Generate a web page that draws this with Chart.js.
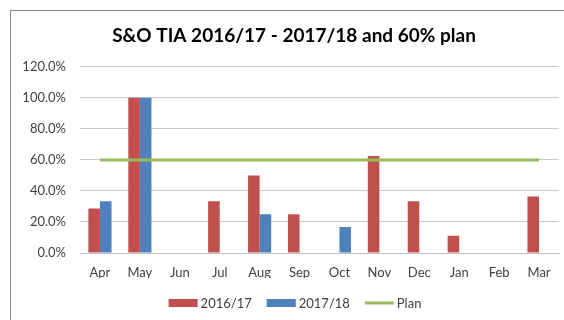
<!DOCTYPE html>
<html>
<head>
<meta charset="utf-8">
<script src="https://cdn.jsdelivr.net/npm/chart.js@4.4.0/dist/chart.umd.min.js"></script>
<style>
  html, body { margin: 0; padding: 0; background: #fff; }
  #frame {
    position: absolute; left: 10px; top: 10px;
    width: 560px; height: 320px;
    border-top: 1px solid #8c8c8c; border-left: 1px solid #8c8c8c;
  }
  #chart { position: absolute; left: 0; top: 0; }
</style>
</head>
<body>
<div id="frame">
  <canvas id="chart" width="553" height="309"></canvas>
</div>
<script>
const months = ['Apr', 'May', 'Jun', 'Jul', 'Aug', 'Sep', 'Oct', 'Nov', 'Dec', 'Jan', 'Feb', 'Mar'];
const tia1617 = [28.6, 100, null, 33.3, 50, 25, null, 62.5, 33.3, 11.1, null, 36.4];
const tia1718 = [33.3, 100, null, null, 25, null, 16.7, null, null, null, null, null];
const plan = [60, 60, 60, 60, 60, 60, 60, 60, 60, 60, 60, 60];

const labelFont = '13px Lato';
const labelColor = '#404040';

// compact legend: swatch sits right against its text, like the office-style key
const keyLegend = {
    id: 'keyLegend',
    afterLayout(chart) {
        // centre the title a little to the right, over the plot rather than the canvas
        if (chart.titleBlock) chart.titleBlock.left += 18;
    },
    afterDraw(chart) {
        const c = chart.ctx;
        const swatch = 29, gapText = 3, gapItem = 15, cy = 292, cx = 284;
        c.save();
        c.font = labelFont;
        c.textBaseline = 'middle';
        const items = chart.data.datasets.map(ds => ({
            ds, w: swatch + gapText + c.measureText(ds.label).width
        }));
        const total = items.reduce((s, it) => s + it.w, 0) + gapItem * (items.length - 1);
        let x = cx - total / 2;
        for (const it of items) {
            if (it.ds.type === 'line') {
                c.strokeStyle = it.ds.borderColor;
                c.lineWidth = it.ds.borderWidth;
                c.beginPath();
                c.moveTo(x, cy);
                c.lineTo(x + swatch, cy);
                c.stroke();
            } else {
                c.fillStyle = it.ds.backgroundColor;
                c.fillRect(x, cy - 4, swatch, 8);
            }
            c.fillStyle = labelColor;
            c.fillText(it.ds.label, x + swatch + gapText, cy + 1);
            x += it.w + gapItem;
        }
        c.restore();
    }
};

const ctx = document.getElementById('chart').getContext('2d');

new Chart(ctx, {
    type: 'bar',
    data: {
        labels: months,
        datasets: [{
            label: '2016/17',
            data: tia1617,
            backgroundColor: '#C0504D',
            borderWidth: 0,
            categoryPercentage: 0.58,
            barPercentage: 1
        }, {
            label: '2017/18',
            data: tia1718,
            backgroundColor: '#4F81BD',
            borderWidth: 0,
            categoryPercentage: 0.58,
            barPercentage: 1
        }, {
            type: 'line',
            label: 'Plan',
            data: plan,
            borderColor: '#9BBB59',
            backgroundColor: '#9BBB59',
            borderWidth: 3,
            pointRadius: 0,
            order: -1
        }]
    },
    options: {
        responsive: false,
        animation: false,
        layout: { padding: { left: 0, right: 5, bottom: 42 } },
        plugins: {
            title: {
                display: true,
                text: 'S&O TIA 2016/17 - 2017/18 and 60% plan',
                color: '#000',
                font: { family: 'Lato', size: 19, weight: 'bold' },
                padding: { top: 13, bottom: 20 }
            },
            legend: { display: false },
            tooltip: { enabled: false }
        },
        scales: {
            x: {
                afterFit: scale => { scale.height = 25; },
                grid: { display: false },
                border: { color: '#bfbfbf' },
                ticks: { color: labelColor, font: { family: 'Lato', size: 13 }, padding: 4 }
            },
            y: {
                min: 0,
                max: 120,
                afterFit: scale => { scale.width = 69; },
                grid: { color: '#c8c8c8', drawTicks: false },
                border: { display: false },
                ticks: {
                    stepSize: 20,
                    padding: 14,
                    color: labelColor,
                    font: { family: 'Lato', size: 13 },
                    callback: v => v.toFixed(1) + '%'
                }
            }
        }
    },
    plugins: [keyLegend]
});
</script>
</body>
</html>
